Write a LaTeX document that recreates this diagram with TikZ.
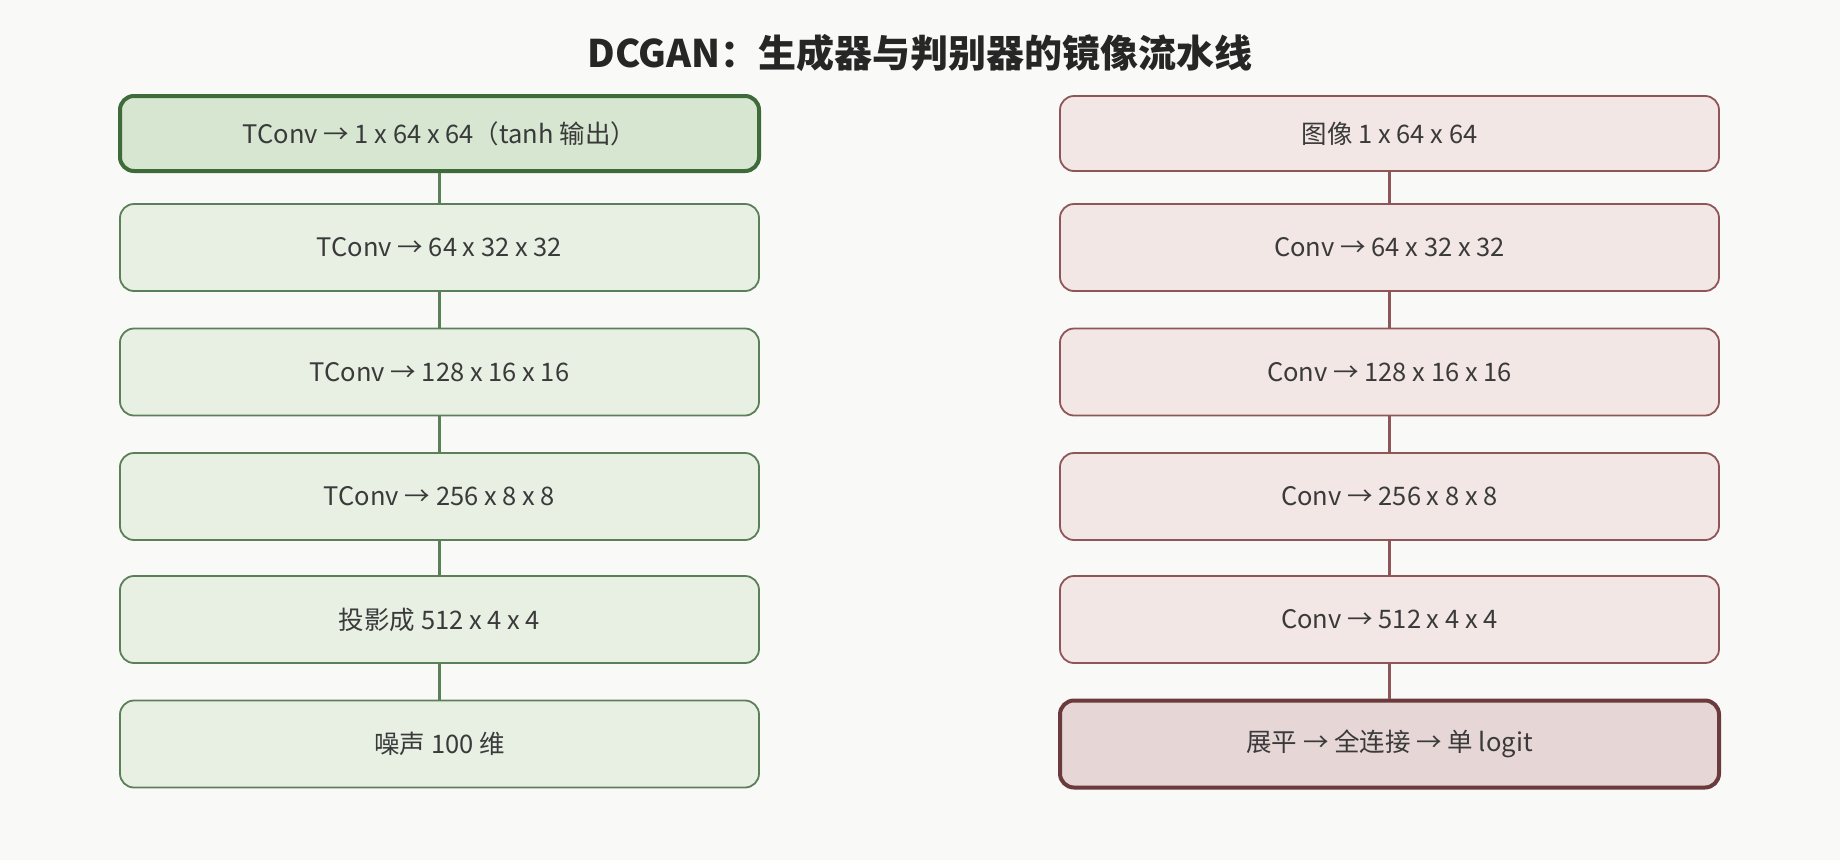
\documentclass[tikz,border=0pt]{standalone}
\usepackage{fontspec}
\setmainfont{Noto Sans CJK SC}
\usetikzlibrary{positioning}

\definecolor{pagebg}{HTML}{F9F9F7}
\definecolor{genfill}{HTML}{E8F0E4}
\definecolor{genline}{HTML}{5B7F56}
\definecolor{genhifill}{HTML}{D6E6D1}
\definecolor{genhiline}{HTML}{3F6A39}
\definecolor{disfill}{HTML}{F2E7E5}
\definecolor{disline}{HTML}{8E5658}
\definecolor{dishifill}{HTML}{E6D6D6}
\definecolor{dishiline}{HTML}{6A3A3C}
\definecolor{txt}{HTML}{3A3A3A}

\tikzset{
    layer/.style={rounded corners=14pt, line width=1.8pt, text=txt,
        font=\fontsize{25.5}{30}\selectfont, minimum height=87pt},
    gen/.style={layer, draw=genline, fill=genfill, minimum width=639pt},
    genout/.style={gen, draw=genhiline, fill=genhifill, line width=4pt, minimum height=75pt},
    dis/.style={layer, draw=disline, fill=disfill, minimum width=659pt},
    disin/.style={dis, minimum height=75pt},
    disout/.style={dis, draw=dishiline, fill=dishifill, line width=4pt},
    genlink/.style={draw=genline, line width=3pt},
    dislink/.style={draw=disline, line width=3pt},
}

\begin{document}
\begin{tikzpicture}[x=1pt, y=-1pt]
    \fill [pagebg] (0,0) rectangle (1840,860);
    \useasboundingbox (0,0) rectangle (1840,860);

    \node [text=black!85, font=\fontsize{38}{44}\selectfont\bfseries] (title) at (920,53) {DCGAN：生成器与判别器的镜像流水线};

    % generator, read bottom-up
    \node [genout] (g1) at (439.5,133.5) {TConv → 1 x 64 x 64（tanh 输出）};
    \node [gen] (g2) at (439.5,247.5) {TConv → 64 x 32 x 32};
    \node [gen] (g3) at (439.5,372) {TConv → 128 x 16 x 16};
    \node [gen] (g4) at (439.5,496.5) {TConv → 256 x 8 x 8};
    \node [gen] (g5) at (439.5,619.5) {投影成 512 x 4 x 4};
    \node [gen] (g6) at (439.5,744) {噪声 100 维};

    \draw [genlink] (g1) -- (g2);
    \draw [genlink] (g2) -- (g3);
    \draw [genlink] (g3) -- (g4);
    \draw [genlink] (g4) -- (g5);
    \draw [genlink] (g5) -- (g6);

    % discriminator, read top-down
    \node [disin] (d1) at (1389.5,133.5) {图像 1 x 64 x 64};
    \node [dis] (d2) at (1389.5,247.5) {Conv → 64 x 32 x 32};
    \node [dis] (d3) at (1389.5,372) {Conv → 128 x 16 x 16};
    \node [dis] (d4) at (1389.5,496.5) {Conv → 256 x 8 x 8};
    \node [dis] (d5) at (1389.5,619.5) {Conv → 512 x 4 x 4};
    \node [disout] (d6) at (1389.5,744) {展平 → 全连接 → 单 logit};

    \draw [dislink] (d1) -- (d2);
    \draw [dislink] (d2) -- (d3);
    \draw [dislink] (d3) -- (d4);
    \draw [dislink] (d4) -- (d5);
    \draw [dislink] (d5) -- (d6);
\end{tikzpicture}
\end{document}
